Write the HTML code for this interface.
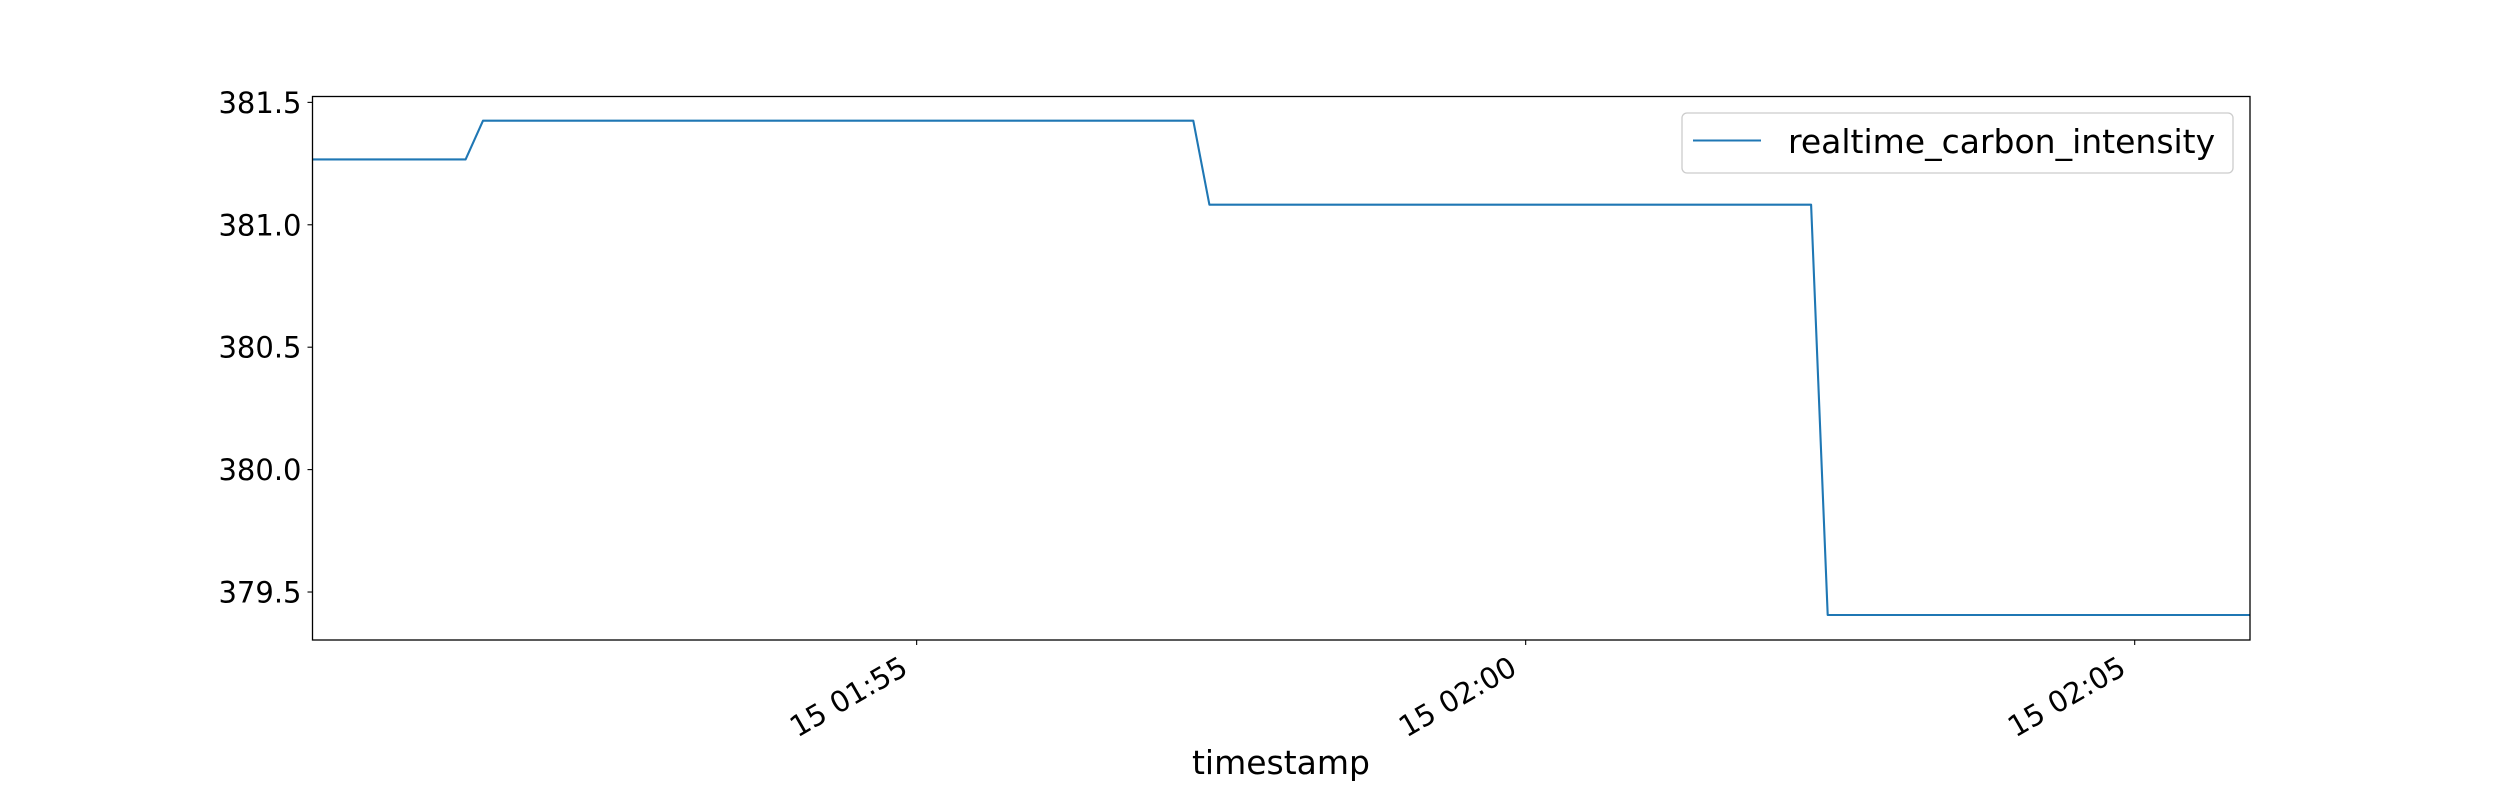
<!DOCTYPE html>
<html><head><meta charset="utf-8"><style>
html,body{margin:0;padding:0;background:#fff;}
svg{display:block;font-family:"DejaVu Sans","Liberation Sans",sans-serif;}
</style></head><body>
<svg id="chart" width="2500" height="800" viewBox="0 0 2500 800" xmlns="http://www.w3.org/2000/svg">
<rect x="0" y="0" width="2500" height="800" fill="#fff"/>
<g id="plot"></g>
</svg>
<script>
// Data: seconds after 01:50:00 and carbon intensity values
const times = [2.4, 77.8, 86.4, 436.3, 444.2, 740.6, 748.8, 956.8];
const values = [381.267, 381.267, 381.425, 381.425, 381.082, 381.082, 379.406, 379.406];
const yTicks = [379.5, 380.0, 380.5, 381.0, 381.5];
const yTickLabels = ["379.5", "380.0", "380.5", "381.0", "381.5"];
const xTicks = [300, 600, 900];
const xTickLabels = ["15 01:55", "15 02:00", "15 02:05"];
const seriesName = "realtime_carbon_intensity";

const L = 312.5, R = 2250, T = 96.5, B = 640;
const xMin = 2.4, xMax = 956.8, yMin = 379.304, yMax = 381.524;
const xs = t => L + (t - xMin) / (xMax - xMin) * (R - L);
const ys = v => B - (v - yMin) / (yMax - yMin) * (B - T);
const NS = "http://www.w3.org/2000/svg";
const g = document.getElementById('plot');
function mk(tag, attrs) { const e = document.createElementNS(NS, tag); for (const k in attrs) e.setAttribute(k, attrs[k]); g.appendChild(e); return e; }

// series line
const pts = times.map((t, i) => xs(t).toFixed(1) + ',' + ys(values[i]).toFixed(1)).join(' ');
const line = mk('polyline', {points: pts, fill: 'none', stroke: '#1f77b4', 'stroke-width': 2.1, 'stroke-linejoin': 'round'});



// axes frame
const frame = mk('rect', {x: L, y: T, width: R - L, height: B - T, fill: 'none', stroke: '#000', 'stroke-width': 1.3});



// y ticks
yTicks.forEach((v, i) => {
  const y = ys(v);
  const tk = mk('line', {x1: L - 5, x2: L, y1: y, y2: y, stroke: '#000', 'stroke-width': 1.1});
  
  
  const tx = mk('text', {x: L - 11, y: y + 10.5, 'text-anchor': 'end', 'font-size': 29, fill: '#000'});
  tx.textContent = yTickLabels[i];
  
  
});

// x ticks
xTicks.forEach((t, i) => {
  const x = xs(t);
  const tk = mk('line', {x1: x, x2: x, y1: B, y2: B + 5, stroke: '#000', 'stroke-width': 1.1});
  
  
  const px = x - 7, py = 673;
  const tx = mk('text', {x: px, y: py, 'text-anchor': 'end', 'font-size': 29, fill: '#000', transform: `rotate(-30 ${px} ${py})`});
  tx.textContent = xTickLabels[i];
  
  
});

// x axis title
const xt = mk('text', {x: 1281, y: 774, 'text-anchor': 'middle', 'font-size': 33, fill: '#000'});
xt.textContent = 'timestamp';



// legend
const lb = mk('rect', {x: 1682, y: 113, width: 551, height: 60, rx: 5, fill: '#fff', 'fill-opacity': 0.8, stroke: '#cccccc', 'stroke-width': 1.3});


const ll = mk('line', {x1: 1693, x2: 1761, y1: 140.5, y2: 140.5, stroke: '#1f77b4', 'stroke-width': 2.1});


const lt = mk('text', {x: 1788, y: 153, 'font-size': 33, fill: '#000'});
lt.textContent = seriesName;


</script>
</body></html>
